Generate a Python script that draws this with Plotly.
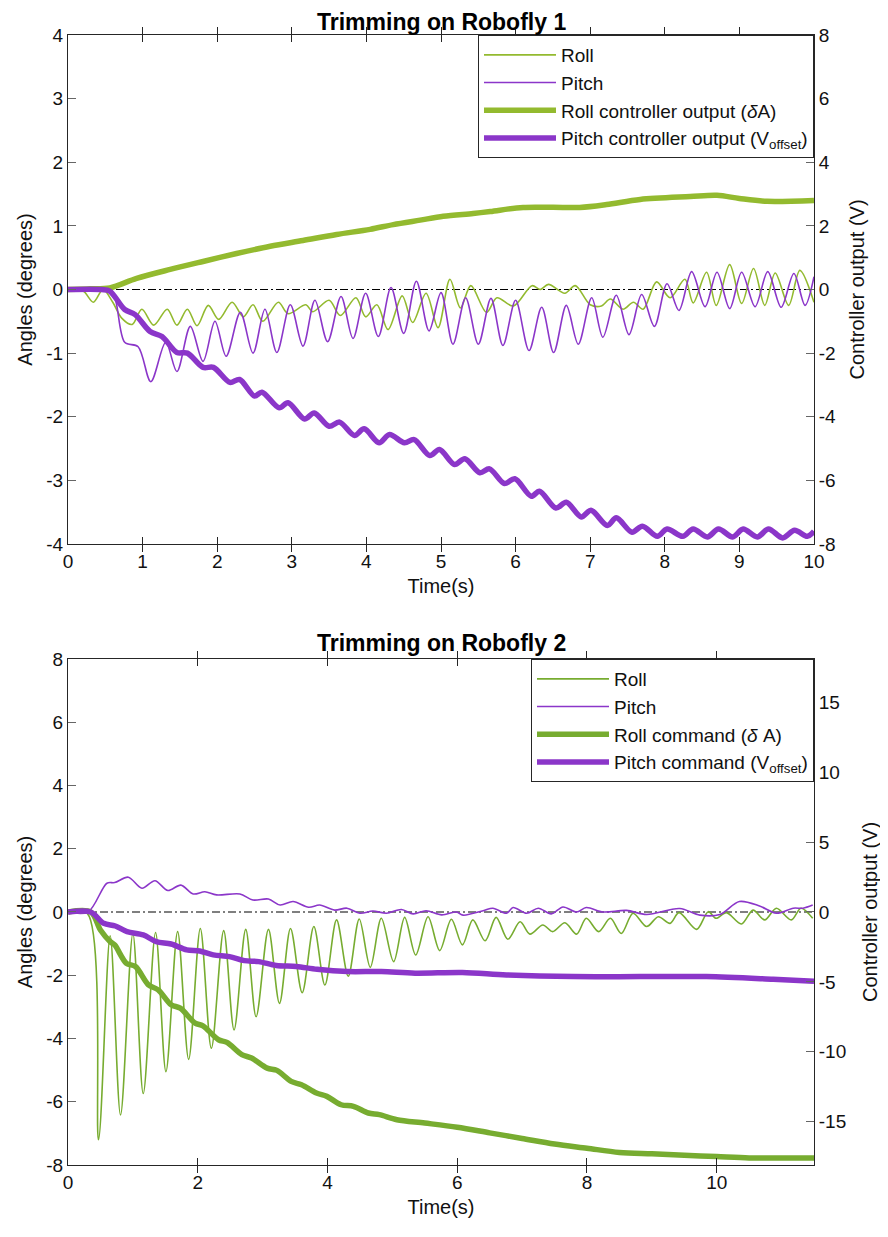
import plotly.graph_objects as go
from plotly.subplots import make_subplots

# ---------------- Robofly 1 (top) ----------------
r1_roll_t = [0, 0.2, 0.34, 0.47, 0.6, 0.72, 0.86, 0.99, 1.15, 1.33, 1.46, 1.6, 1.73, 1.88, 2.02, 2.2, 2.35, 2.48,
             2.61, 2.82, 2.95, 3.19, 3.28, 3.5, 3.65, 3.86, 3.99, 4.14, 4.29, 4.48, 4.62, 4.8, 4.96, 5.12, 5.26,
             5.40, 5.61, 5.75, 5.97, 6.22, 6.33, 6.44, 6.66, 6.80, 7.0, 7.15, 7.27, 7.44, 7.58, 7.71, 7.89, 8.07,
             8.27, 8.38, 8.56, 8.69, 8.87, 9.03, 9.19, 9.34, 9.48, 9.66, 9.81, 10.0]
r1_roll_v = [0, -0.02, -0.2, 0.0, -0.2, -0.45, -0.55, -0.31, -0.56, -0.31, -0.56, -0.31, -0.57, -0.25, -0.47, -0.2,
             -0.43, -0.24, -0.5, -0.2, -0.38, -0.24, -0.35, -0.17, -0.41, -0.13, -0.43, -0.24, -0.63, -0.1, -0.52,
             -0.06, -0.6, 0.16, -0.29, 0.06, -0.36, -0.13, -0.26, 0.06, 0.0, 0.08, -0.06, 0.06, -0.24, -0.26, -0.15,
             -0.31, -0.2, -0.31, 0.12, -0.13, 0.16, -0.21, 0.27, -0.25, 0.39, -0.22, 0.33, -0.25, 0.26, -0.25, 0.3,
             -0.2]

r1_pitch_t = [0, 0.45, 0.6, 0.76, 0.94, 1.11, 1.31, 1.46, 1.64, 1.81, 1.97, 2.12, 2.31, 2.48, 2.64, 2.80, 2.98,
              3.15, 3.31, 3.48, 3.66, 3.82, 3.99, 4.16, 4.33, 4.50, 4.67, 4.84, 5.0, 5.16, 5.33, 5.50, 5.67, 5.83,
              6.0, 6.18, 6.35, 6.51, 6.68, 6.84, 7.02, 7.17, 7.35, 7.52, 7.69, 7.86, 8.03, 8.19, 8.36, 8.54, 8.70,
              8.87, 9.03, 9.21, 9.38, 9.56, 9.73, 9.88, 10.0]
r1_pitch_v = [0, 0, -0.05, -0.83, -0.9, -1.45, -0.83, -1.29, -0.58, -1.13, -0.5, -1.05, -0.36, -1.0, -0.31, -0.99,
              -0.24, -0.89, -0.17, -0.82, -0.11, -0.77, -0.06, -0.74, 0.03, -0.69, 0.13, -0.65, -0.05, -0.86, -0.13,
              -0.86, -0.14, -0.88, -0.17, -0.96, -0.28, -0.99, -0.25, -0.86, -0.13, -0.75, -0.09, -0.71, -0.08,
              -0.58, 0.09, -0.33, 0.28, -0.27, 0.27, -0.30, 0.27, -0.27, 0.28, -0.28, 0.25, -0.25, 0.2]

r1_rollcmd_t = [0, 0.3, 0.56, 0.92, 1.37, 1.81, 2.26, 2.71, 3.15, 3.6, 4.05, 4.36, 4.72, 5.03, 5.43, 5.66, 6.1,
                6.86, 7.22, 7.67, 8.34, 8.70, 9.0, 9.37, 10.0]
r1_rollcmd_v = [0, 0.02, 0.05, 0.35, 0.63, 0.88, 1.13, 1.36, 1.54, 1.73, 1.89, 2.04, 2.18, 2.3, 2.39, 2.45, 2.58,
                2.58, 2.67, 2.83, 2.92, 2.96, 2.86, 2.77, 2.8]

r1_pitchcmd_t = [0, 0.45, 0.56, 0.76, 0.9, 1.1, 1.26, 1.46, 1.6, 1.81, 1.95, 2.17, 2.3, 2.5, 2.6, 2.83, 2.95,
                 3.17, 3.3, 3.5, 3.64, 3.84, 3.97, 4.17, 4.31, 4.51, 4.64, 4.85, 4.98, 5.18, 5.32, 5.52, 5.65,
                 5.85, 5.99, 6.21, 6.32, 6.54, 6.68, 6.88, 7.01, 7.23, 7.35, 7.56, 7.7, 7.9, 8.03, 8.24, 8.38,
                 8.57, 8.72, 8.91, 9.05, 9.24, 9.39, 9.58, 9.74, 9.91, 10.0]
r1_pitchcmd_v = [0, 0, -0.05, -0.63, -0.79, -1.32, -1.48, -1.98, -2.0, -2.45, -2.45, -2.92, -2.83, -3.35, -3.23,
                 -3.72, -3.56, -4.07, -3.88, -4.3, -4.17, -4.59, -4.38, -4.82, -4.56, -4.82, -4.72, -5.22, -5.03,
                 -5.5, -5.32, -5.76, -5.64, -6.1, -5.95, -6.5, -6.34, -6.87, -6.69, -7.15, -6.94, -7.42, -7.18,
                 -7.63, -7.44, -7.76, -7.53, -7.76, -7.53, -7.78, -7.53, -7.78, -7.53, -7.78, -7.53, -7.81, -7.57,
                 -7.76, -7.6]

# ---------------- Robofly 2 (bottom) ----------------
r2_roll_t = [0, 0.30, 0.47, 0.65, 0.81, 1.0, 1.16, 1.35, 1.51, 1.69, 1.86, 2.04, 2.21, 2.40, 2.56, 2.74, 2.90,
             3.09, 3.26, 3.43, 3.61, 3.79, 3.96, 4.14, 4.32, 4.49, 4.66, 4.83, 5.02, 5.19, 5.36, 5.55, 5.73, 5.91,
             6.08, 6.24, 6.43, 6.6, 6.78, 6.97, 7.12, 7.32, 7.47, 7.66, 7.84, 7.99, 8.18, 8.36, 8.53, 8.71, 8.92,
             9.10, 9.28, 9.42, 9.69, 9.87, 9.99, 10.15, 10.38, 10.56, 10.74, 10.92, 11.15, 11.30, 11.48]
r2_roll_v = [0, -0.05, -7.2, -0.75, -6.42, -0.68, -5.74, -0.65, -5.05, -0.62, -4.66, -0.52, -4.31, -0.59, -3.73,
             -0.55, -3.31, -0.55, -2.89, -0.52, -2.55, -0.46, -2.31, -0.25, -2.03, -0.22, -1.75, -0.2, -1.57, -0.17,
             -1.36, -0.15, -1.22, -0.23, -1.04, -0.25, -0.91, -0.17, -0.86, -0.31, -0.7, -0.41, -0.62, -0.34, -0.7,
             -0.2, -0.62, -0.2, -0.68, -0.04, -0.46, -0.15, -0.36, -0.02, -0.55, 0.01, -0.2, -0.02, -0.38, 0.06,
             -0.25, 0.12, -0.25, 0.12, -0.2]

r2_pitch_t = [0, 0.31, 0.60, 0.72, 0.93, 1.14, 1.34, 1.54, 1.74, 1.93, 2.11, 2.29, 2.65, 2.85, 3.09, 3.27, 3.47,
              3.71, 3.88, 4.11, 4.30, 4.50, 4.70, 4.91, 5.14, 5.32, 5.52, 5.76, 5.99, 6.09, 6.40, 6.55, 6.76, 6.86,
              7.07, 7.25, 7.45, 7.63, 7.84, 7.99, 8.25, 8.61, 8.92, 9.43, 9.74, 10.05, 10.35, 10.66, 10.92, 11.18,
              11.33, 11.48]
r2_pitch_v = [0, 0, 0.91, 0.93, 1.10, 0.75, 0.99, 0.68, 0.85, 0.57, 0.64, 0.54, 0.57, 0.38, 0.41, 0.22, 0.33, 0.15,
              0.22, 0.06, 0.12, -0.04, 0.03, -0.04, 0.08, -0.06, 0.04, -0.09, 0.0, -0.1, 0.04, 0.12, -0.04, 0.14,
              -0.04, 0.12, -0.06, 0.16, 0.0, 0.14, 0.0, 0.05, -0.08, 0.11, -0.1, -0.08, 0.33, 0.19, -0.04, 0.12,
              0.12, 0.22]

r2_rollcmd_t = [0, 0.35, 0.50, 0.65, 0.72, 0.90, 1.04, 1.24, 1.39, 1.59, 1.73, 1.96, 2.08, 2.32, 2.45, 2.68, 2.83,
                3.07, 3.22, 3.44, 3.60, 3.83, 3.99, 4.21, 4.40, 4.63, 4.80, 5.07, 5.5, 6.0, 6.5, 7.0, 7.5, 8.0,
                8.5, 9.0, 9.5, 10.0, 10.5, 11.0, 11.5]
r2_rollcmd_v = [0, 0, -1.29, -2.12, -2.36, -3.67, -3.9, -5.21, -5.57, -6.64, -6.88, -7.95, -8.14, -9.14, -9.33,
                -10.2, -10.45, -11.17, -11.33, -12.12, -12.36, -12.95, -13.19, -13.79, -13.9, -14.38, -14.5, -14.86,
                -15.1, -15.4, -15.8, -16.2, -16.6, -16.9, -17.2, -17.3, -17.4, -17.5, -17.6, -17.6, -17.6]

r2_pitchcmd_t = [0, 0.35, 0.55, 0.73, 0.91, 1.16, 1.36, 1.59, 1.83, 2.03, 2.24, 2.49, 2.72, 2.94, 3.21, 3.52,
                 3.84, 4.31, 4.83, 5.35, 6.08, 6.76, 7.79, 8.81, 9.84, 10.87, 11.5]
r2_pitchcmd_v = [0, 0, -0.81, -1.0, -1.4, -1.64, -2.12, -2.29, -2.71, -2.79, -3.07, -3.19, -3.48, -3.55, -3.83,
                 -3.9, -4.1, -4.26, -4.26, -4.38, -4.33, -4.5, -4.62, -4.62, -4.62, -4.81, -4.95]

# ---------------- tick labels ----------------
r1_left_ticks = [-4, -3, -2, -1, 0, 1, 2, 3, 4]
r1_left_text = ["-4", "-3", "-2", "-1", "0", "1", "2", "3", "4"]
r1_right_ticks = [-8, -6, -4, -2, 0, 2, 4, 6, 8]
r1_right_text = ["-8", "-6", "-4", "-2", "0", "2", "4", "6", "8"]
r2_left_ticks = [-8, -6, -4, -2, 0, 2, 4, 6, 8]
r2_left_text = ["-8", "-6", "-4", "-2", "0", "2", "4", "6", "8"]
r2_right_ticks = [-15, -10, -5, 0, 5, 10, 15]
r2_right_text = ["-15", "-10", "-5", "0", "5", "10", "15"]

GREEN1 = "#93BA2F"
GREEN2 = "#77AC30"
PURPLE = "#8B36C9"
AXC = "#262626"
TXT = "#111111"
FONT = "Liberation Sans, Arial, sans-serif"

fig = make_subplots(rows=2, cols=1, specs=[[{"secondary_y": True}], [{"secondary_y": True}]])


def add(t, v, color, width, name, legend, row, sec):
    fig.add_trace(go.Scatter(x=t, y=v, mode="lines", name=name, legend=legend,
                             line=dict(color=color, width=width, shape="spline", smoothing=0.9),
                             hoverinfo="skip"), row=row, col=1, secondary_y=sec)


add(r1_roll_t, r1_roll_v, GREEN1, 1.6, "Roll", "legend", 1, False)
add(r1_pitch_t, r1_pitch_v, PURPLE, 1.6, "Pitch", "legend", 1, False)
add(r1_rollcmd_t, r1_rollcmd_v, GREEN1, 5.5, "Roll controller output (<i>δ</i>A)", "legend", 1, True)
add(r1_pitchcmd_t, r1_pitchcmd_v, PURPLE, 5.5, "Pitch controller output (V<sub>offset</sub>)", "legend", 1, True)

add(r2_roll_t, r2_roll_v, GREEN2, 1.6, "Roll", "legend2", 2, False)
add(r2_pitch_t, r2_pitch_v, PURPLE, 1.6, "Pitch", "legend2", 2, False)
add(r2_rollcmd_t, r2_rollcmd_v, GREEN2, 5.5, "Roll command (<i>δ</i> A)", "legend2", 2, True)
add(r2_pitchcmd_t, r2_pitchcmd_v, PURPLE, 5.5, "Pitch command (V<sub>offset</sub>)", "legend2", 2, True)

for r in (1, 2):
    fig.add_hline(y=0, line=dict(color="black", width=1.2, dash="8px,3px,2px,3px"), layer="below",
                  row=r, col=1, secondary_y=False)

TOP_D = [0.5496, 1.0]
BOT_D = [0.0, 0.4478]
TF = 19   # tick font
LF = 20   # axis label font

xcommon = dict(showline=True, linecolor=AXC, linewidth=1, mirror="allticks", ticks="inside", ticklen=7,
               tickcolor=AXC, showgrid=False, zeroline=False, automargin=False,
               tickfont=dict(size=TF, color=TXT),
               title=dict(text="Time(s)", font=dict(size=LF, color=TXT), standoff=8))
ycommon = dict(showline=True, linecolor=AXC, linewidth=1, ticks="inside", ticklen=8, tickcolor="#666",
               showgrid=False, zeroline=False, automargin=False, tickfont=dict(size=TF, color=TXT),
               tickmode="array")


def ytitle(text, standoff):
    return dict(text=text, font=dict(size=LF, color=TXT), standoff=standoff)


# the page body adds an 8px offset, so the figure is 880x1229 placed at (8, 8)
fig.update_layout(
    width=880, height=1229, margin=dict(l=60, r=74, t=27, b=72),
    plot_bgcolor="white", paper_bgcolor="white",
    font=dict(family=FONT, size=TF, color=TXT),
    xaxis=dict(xcommon, range=[0, 10], dtick=1, domain=[0, 1]),
    xaxis2=dict(xcommon, range=[0, 11.5], dtick=2, domain=[0, 1]),
    yaxis=dict(ycommon, range=[-4, 4], tickvals=r1_left_ticks, ticktext=r1_left_text, domain=TOP_D,
               title=ytitle("Angles (degrees)", 8)),
    yaxis2=dict(ycommon, range=[-8, 8], tickvals=r1_right_ticks, ticktext=r1_right_text, domain=TOP_D,
                side="right", title=ytitle("Controller output (V)", 14)),
    yaxis3=dict(ycommon, range=[-8, 8], tickvals=r2_left_ticks, ticktext=r2_left_text, domain=BOT_D,
                title=ytitle("Angles (degrees)", 8)),
    yaxis4=dict(ycommon, range=[-18.1, 18.1], tickvals=r2_right_ticks, ticktext=r2_right_text, domain=BOT_D,
                side="right", title=ytitle("Controller output (V)", 17)),
    legend=dict(x=1, xanchor="right", y=1, yanchor="top", bordercolor=AXC, borderwidth=1, bgcolor="white",
                font=dict(size=19, color=TXT), itemwidth=72, traceorder="normal", tracegroupgap=0),
    legend2=dict(x=1, xanchor="right", y=BOT_D[1], yanchor="top", bordercolor=AXC, borderwidth=1,
                 bgcolor="white", font=dict(size=19, color=TXT), itemwidth=72, traceorder="normal",
                 tracegroupgap=0),
    annotations=[
        dict(text="<b>Trimming on Robofly 1</b>", xref="paper", yref="paper", x=0.5, y=1.0239,
             xanchor="center", yanchor="top", showarrow=False, borderpad=0,
             font=dict(size=23, color="black")),
        dict(text="<b>Trimming on Robofly 2</b>", xref="paper", yref="paper", x=0.5, y=0.4619,
             xanchor="center", yanchor="middle", showarrow=False, font=dict(size=23, color="black")),
    ],
)

fig.write_html("out.html")
